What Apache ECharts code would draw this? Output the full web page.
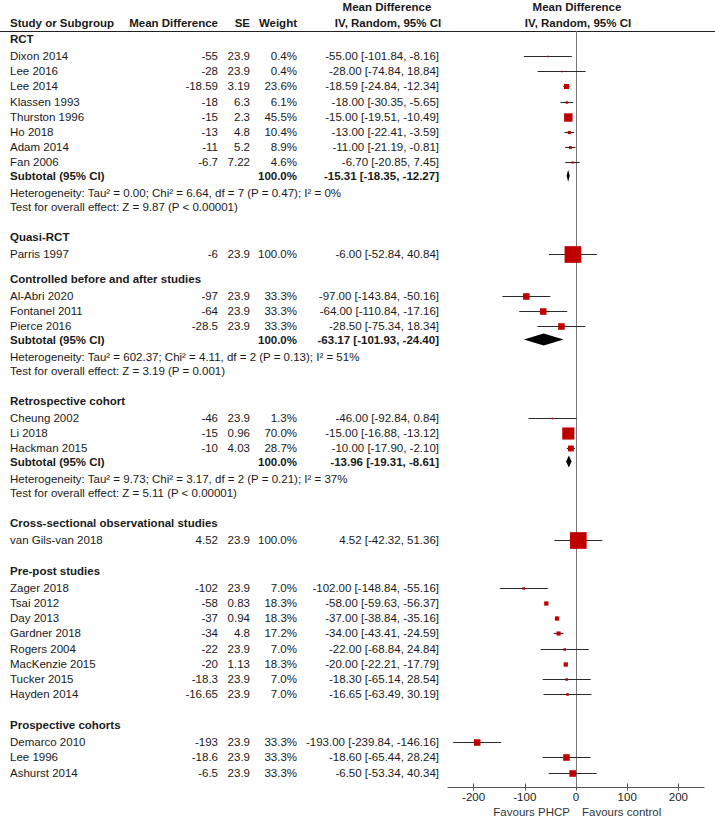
<!DOCTYPE html>
<html><head><meta charset="utf-8">
<script src="https://cdn.jsdelivr.net/npm/echarts@6/dist/echarts.min.js"></script>
<style>html,body{margin:0;padding:0;background:#fff}#c{width:715px;height:823px}</style>
</head><body><div id="c"></div>
<script>
// ---------------- DATA ----------------
const groupNames = ['RCT', 'Quasi-RCT', 'Controlled before and after studies', 'Retrospective cohort',
  'Cross-sectional observational studies', 'Pre-post studies', 'Prospective cohorts'];
const studyNames = ['Dixon 2014','Lee 2016','Lee 2014','Klassen 1993','Thurston 1996','Ho 2018','Adam 2014','Fan 2006',
  'Parris 1997',
  'Al-Abri 2020','Fontanel 2011','Pierce 2016',
  'Cheung 2002','Li 2018','Hackman 2015',
  'van Gils-van 2018',
  'Zager 2018','Tsai 2012','Day 2013','Gardner 2018','Rogers 2004','MacKenzie 2015','Tucker 2015','Hayden 2014',
  'Demarco 2010','Lee 1996','Ashurst 2014'];
const studyGroup = [0,0,0,0,0,0,0,0, 1, 2,2,2, 3,3,3, 4, 5,5,5,5,5,5,5,5, 6,6,6];
const meanDiff = [-55,-28,-18.59,-18,-15,-13,-11,-6.7, -6, -97,-64,-28.5, -46,-15,-10, 4.52,
  -102,-58,-37,-34,-22,-20,-18.3,-16.65, -193,-18.6,-6.5];
const seValues = [23.9,23.9,3.19,6.3,2.3,4.8,5.2,7.22, 23.9, 23.9,23.9,23.9, 23.9,0.96,4.03, 23.9,
  23.9,0.83,0.94,4.8,23.9,1.13,23.9,23.9, 23.9,23.9,23.9];
const weights = [0.4,0.4,23.6,6.1,45.5,10.4,8.9,4.6, 100.0, 33.3,33.3,33.3, 1.3,70.0,28.7, 100.0,
  7.0,18.3,18.3,17.2,7.0,18.3,7.0,7.0, 33.3,33.3,33.3];
const ciLow = [-101.84,-74.84,-24.84,-30.35,-19.51,-22.41,-21.19,-20.85, -52.84, -143.84,-110.84,-75.34,
  -92.84,-16.88,-17.90, -42.32, -148.84,-59.63,-38.84,-43.41,-68.84,-22.21,-65.14,-63.49, -239.84,-65.44,-53.34];
const ciHigh = [-8.16,18.84,-12.34,-5.65,-10.49,-3.59,-0.81,7.45, 40.84, -50.16,-17.16,18.34,
  0.84,-13.12,-2.10, 51.36, -55.16,-56.37,-35.16,-24.59,24.84,-17.79,28.54,30.19, -146.16,28.24,40.34];

const subtotalGroups = [0, 2, 3];
const subtotalMean = [-15.31, -63.17, -13.96];
const subtotalLow = [-18.35, -101.93, -19.31];
const subtotalHigh = [-12.27, -24.40, -8.61];
const subtotalWeight = [100.0, 100.0, 100.0];
const heterogeneityText = [
  'Heterogeneity: Tau\u00b2 = 0.00; Chi\u00b2 = 6.64, df = 7 (P = 0.47); I\u00b2 = 0%',
  'Heterogeneity: Tau\u00b2 = 602.37; Chi\u00b2 = 4.11, df = 2 (P = 0.13); I\u00b2 = 51%',
  'Heterogeneity: Tau\u00b2 = 9.73; Chi\u00b2 = 3.17, df = 2 (P = 0.21); I\u00b2 = 37%'];
const overallEffectText = [
  'Test for overall effect: Z = 9.87 (P < 0.00001)',
  'Test for overall effect: Z = 3.19 (P = 0.001)',
  'Test for overall effect: Z = 5.11 (P < 0.00001)'];

const tickValues = [-200, -100, 0, 100, 200];
const axisNotes = ['Favours PHCP', 'Favours control'];
const headerLeft = ['Study or Subgroup', 'Mean Difference', 'SE', 'Weight'];
const headerEffect = ['Mean Difference', 'IV, Random, 95% CI'];

// ---------------- LAYOUT ----------------
const FONT = '"Liberation Sans", Arial, sans-serif';
const FS = 11.5;
const TXT = '#1a1a1a';
const headerGap = [8, 29.5, 25, 29.5, 29.5, 31, 31];
const GAP = {headerStudy: 17, study: 15.2, subtotal: 13.3, het: 17, test: 14.7};
const COL = {name: 10, md: 218, se: 250, wt: 297, ci: 439};

const rows = [];
let yy = 0;
groupNames.forEach((g, gi) => {
  yy += headerGap[gi];
  rows.push({type: 'header', y: yy, gi});
  let first = true;
  studyNames.forEach((s, i) => {
    if (studyGroup[i] !== gi) return;
    yy += first ? GAP.headerStudy : GAP.study;
    first = false;
    rows.push({type: 'study', y: yy, i});
  });
  const si = subtotalGroups.indexOf(gi);
  if (si >= 0) {
    yy += GAP.subtotal; rows.push({type: 'subtotal', y: yy, si});
    yy += GAP.het; rows.push({type: 'het', y: yy, si});
    yy += GAP.test; rows.push({type: 'test', y: yy, si});
  }
});
const studyY = [];
rows.forEach(r => { if (r.type === 'study') studyY[r.i] = r.y; });
const subY = [];
rows.forEach(r => { if (r.type === 'subtotal') subY[r.si] = r.y; });

const fmt2 = v => v.toFixed(2);
const ciStr = (m, l, h) => fmt2(m) + ' [' + fmt2(l) + ', ' + fmt2(h) + ']';

function txt(x, y, text, align, bold) {
  return {type: 'text', x: x, y: y, silent: true,
    style: {text: text, fill: TXT, fontSize: FS, fontFamily: FONT, fontWeight: bold ? 'bold' : 'normal',
      align: align, verticalAlign: 'middle'}};
}

const chart = echarts.init(document.getElementById('c'), null, {renderer: 'svg'});
const Y_MAX = 756;

chart.setOption({
  animation: false,
  backgroundColor: '#fff',
  grid: {left: 448, right: 11, top: 31, height: Y_MAX},
  xAxis: [{
    type: 'value', min: -250, max: 250, position: 'bottom',
    splitLine: {show: false},
    axisLine: {show: true, onZero: false, lineStyle: {color: '#555', width: 1}},
    axisTick: {show: true, length: 3.5, customValues: tickValues, lineStyle: {color: '#555'}},
    axisLabel: {customValues: tickValues, color: '#222', fontSize: FS, fontFamily: FONT, margin: 4}
  }, {
    type: 'value', min: -250, max: 250, position: 'bottom',
    splitLine: {show: false},
    axisLine: {show: false, onZero: false},
    axisTick: {show: true, inside: true, length: 3.5, customValues: tickValues, lineStyle: {color: '#555'}},
    axisLabel: {show: false}
  }],
  yAxis: {type: 'value', min: 0, max: Y_MAX, inverse: true, show: false},
  graphic: [
    {type: 'line', shape: {x1: 0, y1: 31.5, x2: 715, y2: 31.5}, style: {stroke: '#222', lineWidth: 1}},
    txt(COL.name, 23, headerLeft[0], 'left', true),
    txt(COL.md, 23, headerLeft[1], 'right', true),
    txt(COL.se, 23, headerLeft[2], 'right', true),
    txt(COL.wt, 23, headerLeft[3], 'right', true),
    txt(387, 7, headerEffect[0], 'center', true),
    txt(388, 23, headerEffect[1], 'center', true),
    txt(577, 7, headerEffect[0], 'center', true),
    txt(578, 23, headerEffect[1], 'center', true),
    {type: 'text', x: 570, y: 812, silent: true, style: {text: axisNotes[0], fill: '#333', fontSize: FS, fontFamily: FONT, align: 'right', verticalAlign: 'middle'}},
    {type: 'text', x: 582, y: 812, silent: true, style: {text: axisNotes[1], fill: '#333', fontSize: FS, fontFamily: FONT, align: 'left', verticalAlign: 'middle'}}
  ],
  series: [
    { // zero line
      type: 'custom', xAxisIndex: 0, z: 1,
      data: [[0, 0]],
      renderItem: (p, api) => {
        const a = api.coord([0, 0]), b = api.coord([0, Y_MAX]);
        const x = Math.round(a[0]) + 0.5;
        return {type: 'line', shape: {x1: x, y1: a[1], x2: x, y2: b[1]}, style: {stroke: '#777', lineWidth: 1}};
      }
    },
    { // CI lines
      type: 'custom', z: 2,
      data: studyNames.map((s, i) => [ciLow[i], studyY[i], ciHigh[i]]),
      renderItem: (p, api) => {
        const i = p.dataIndex;
        const a = api.coord([ciLow[i], studyY[i]]), b = api.coord([ciHigh[i], studyY[i]]);
        const y = Math.round(a[1]) + 0.5;
        return {type: 'line', shape: {x1: a[0], y1: y, x2: b[0], y2: y}, style: {stroke: '#2a2a2a', lineWidth: 1.1}};
      }
    },
    { // weighted squares
      type: 'custom', z: 3,
      data: studyNames.map((s, i) => [meanDiff[i], studyY[i], weights[i]]),
      renderItem: (p, api) => {
        const c = api.coord([api.value(0), api.value(1)]);
        const s = 1.5 + 0.152 * api.value(2);
        return {type: 'rect', shape: {x: c[0] - s / 2, y: Math.round(c[1]) + 0.5 - s / 2, width: s, height: s},
          style: {fill: '#C00000'}};
      }
    },
    { // subtotal diamonds
      type: 'custom', z: 3,
      data: subtotalMean.map((m, k) => [m, subY[k]]),
      renderItem: (p, api) => {
        const k = p.dataIndex;
        const l = api.coord([subtotalLow[k], subY[k]]), h = api.coord([subtotalHigh[k], subY[k]]);
        const m = api.coord([subtotalMean[k], subY[k]]);
        const hh = 6;
        return {type: 'polygon', shape: {points: [[l[0], m[1]], [m[0], m[1] - hh], [h[0], m[1]], [m[0], m[1] + hh]]},
          style: {fill: '#000'}};
      }
    },
    { // table text
      type: 'custom', z: 4,
      data: rows.map(r => [0, r.y]),
      renderItem: (p, api) => {
        const r = rows[p.dataIndex];
        const y = api.coord([0, r.y])[1];
        const ch = [];
        if (r.type === 'header') {
          ch.push(txt(COL.name, y, groupNames[r.gi], 'left', true));
        } else if (r.type === 'study') {
          const i = r.i;
          ch.push(txt(COL.name, y, studyNames[i], 'left', false));
          ch.push(txt(COL.md, y, String(meanDiff[i]), 'right', false));
          ch.push(txt(COL.se, y, String(seValues[i]), 'right', false));
          ch.push(txt(COL.wt, y, weights[i].toFixed(1) + '%', 'right', false));
          ch.push(txt(COL.ci, y, ciStr(meanDiff[i], ciLow[i], ciHigh[i]), 'right', false));
        } else if (r.type === 'subtotal') {
          const k = r.si;
          ch.push(txt(COL.name, y, 'Subtotal (95% CI)', 'left', true));
          ch.push(txt(COL.wt, y, subtotalWeight[k].toFixed(1) + '%', 'right', true));
          ch.push(txt(COL.ci, y, ciStr(subtotalMean[k], subtotalLow[k], subtotalHigh[k]), 'right', true));
        } else if (r.type === 'het') {
          ch.push(txt(COL.name, y, heterogeneityText[r.si], 'left', false));
        } else {
          ch.push(txt(COL.name, y, overallEffectText[r.si], 'left', false));
        }
        return {type: 'group', children: ch};
      }
    }
  ]
});
</script></body></html>
